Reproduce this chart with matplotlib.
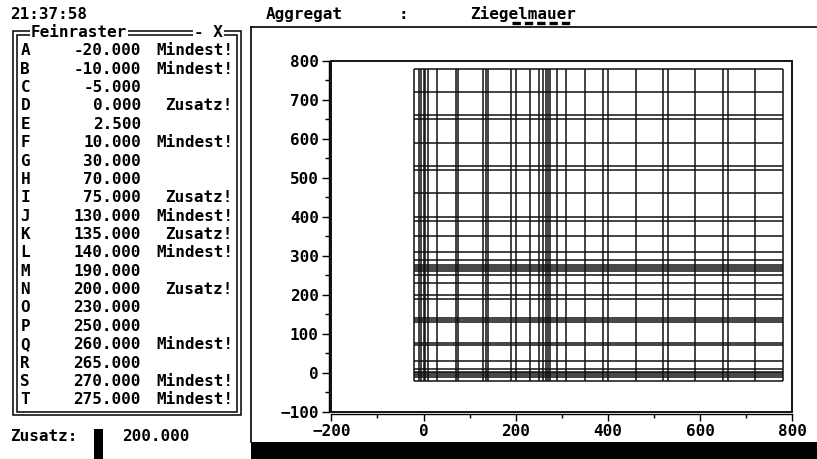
import matplotlib
matplotlib.use("Agg")
import matplotlib.pyplot as plt
from matplotlib.transforms import Affine2D
from matplotlib.patches import Rectangle
from matplotlib.lines import Line2D
from matplotlib.ticker import MultipleLocator

# ---- data ----
zeit = "21:37:58"
raster_titel = "Feinraster"
raster_achse = "- X"
raster_namen = list("ABCDEFGHIJKLMNOPQRST")
raster_werte = [-20.0, -10.0, -5.0, 0.0, 2.5, 10.0, 30.0, 70.0, 75.0, 130.0,
                135.0, 140.0, 190.0, 200.0, 230.0, 250.0, 260.0, 265.0, 270.0, 275.0]
raster_hinweis = ["Mindest!", "Mindest!", "", "Zusatz!", "", "Mindest!", "", "", "Zusatz!", "Mindest!",
                  "Zusatz!", "Mindest!", "", "Zusatz!", "", "", "Mindest!", "", "Mindest!", "Mindest!"]
weitere_raster = [290.0, 310.0, 350.0, 390.0, 400.0, 460.0, 520.0, 530.0, 590.0,
                  650.0, 660.0, 720.0, 780.0]
zusatz_label = "Zusatz:"
zusatz_wert = 200.0
aggregat_label = "Aggregat"
aggregat_name = "Ziegelmauer"
x_ticks = [-200, 0, 200, 400, 600, 800]
y_ticks = [-100, 0, 100, 200, 300, 400, 500, 600, 700, 800]

W, H = 817, 459
CW = W / 80.0          # text column width (80-column screen)
RH = 18.36             # text row height
fig = plt.figure(figsize=(W / 100, H / 100), dpi=100)
fig.patch.set_facecolor("white")
px = Affine2D().scale(1 / W, -1 / H).translate(0, 1) + fig.transFigure

FONT = dict(family="DejaVu Sans Mono", weight="bold", size=11.5, color="black")

def col(c):
    return c * CW

def row(r):
    return 14.2 + r * RH

def t(x, y, s, ha="left", **kw):
    d = dict(FONT)
    d.update(kw)
    fig.text(x, y, s, ha=ha, va="center", transform=px, **d)

def line(xs, ys, lw=1.0, color="black", **kw):
    fig.add_artist(Line2D(xs, ys, transform=px, color=color, lw=lw, **kw))

# ---- left panel ----
t(col(1), row(0), zeit)
for (x0, y0, x1, y1) in [(12.7, 31.0, 241.0, 415.0), (16.6, 34.6, 237.2, 411.6)]:
    fig.add_artist(Rectangle((x0, y0), x1 - x0, y1 - y0, transform=px,
                             fill=False, ec="black", lw=1.1))
t(col(3), row(1), raster_titel, bbox=dict(fc="white", ec="none", pad=0.6))
t(col(19), row(1), raster_achse, bbox=dict(fc="white", ec="none", pad=0.6))
for i, (n, v, h) in enumerate(zip(raster_namen, raster_werte, raster_hinweis)):
    cy = row(2 + i)
    t(col(2), cy, n)
    t(col(14) - 2, cy, f"{v:.3f}", ha="right")
    if h:
        t(col(23) - 2, cy, h, ha="right")
t(col(1), row(23), zusatz_label)
fig.add_artist(Rectangle((94, 429), 9, 30, transform=px, fc="black", ec="none"))
t(col(12), row(23), f"{zusatz_wert:.3f}")

# ---- right panel header ----
t(col(26), row(0), aggregat_label)
t(col(39) + CW / 2, row(0), ":", ha="center")
t(col(46), row(0), aggregat_name)
line([col(50) + 1, col(56) - 1], [22.5, 22.5], lw=2.4, dashes=(2.5, 1.2))
line([251, 817], [27, 27], lw=1.2)
line([251, 251], [27, 442], lw=1.2)
fig.add_artist(Rectangle((251, 442), 566, 17, transform=px, fc="black", ec="none"))

# ---- plot ----
ax = fig.add_axes([331.3 / W, 1 - 411.7 / H, 461 / W, 351 / H])
ax.set_xlim(-200, 800)
ax.set_ylim(-100, 800)
alle = raster_werte + weitere_raster
lo, hi = min(alle), max(alle)
ax.vlines(alle, lo, hi, colors="#111111", lw=1.1)
ax.hlines(alle, lo, hi, colors="#111111", lw=1.1)

for s in ["top", "right"]:
    ax.spines[s].set_visible(False)
for s in ["left", "bottom"]:
    ax.spines[s].set_position(("outward", 2))
    ax.spines[s].set_linewidth(1.0)
ax.add_patch(Rectangle((0, 0), 1, 1, transform=ax.transAxes, fill=False,
                       ec="black", lw=1.3, clip_on=False))
ax.set_xticks(x_ticks)
ax.set_yticks(y_ticks)
ax.xaxis.set_minor_locator(MultipleLocator(100))
ax.yaxis.set_minor_locator(MultipleLocator(50))
ax.tick_params(which="major", direction="out", length=5, width=1.0, pad=2,
               labelsize=11.5)
ax.tick_params(which="minor", direction="out", length=3, width=1.0)
for lab in ax.get_xticklabels() + ax.get_yticklabels():
    lab.set_fontfamily("DejaVu Sans Mono")
    lab.set_fontweight("bold")

fig.savefig("out.png", dpi=100)
